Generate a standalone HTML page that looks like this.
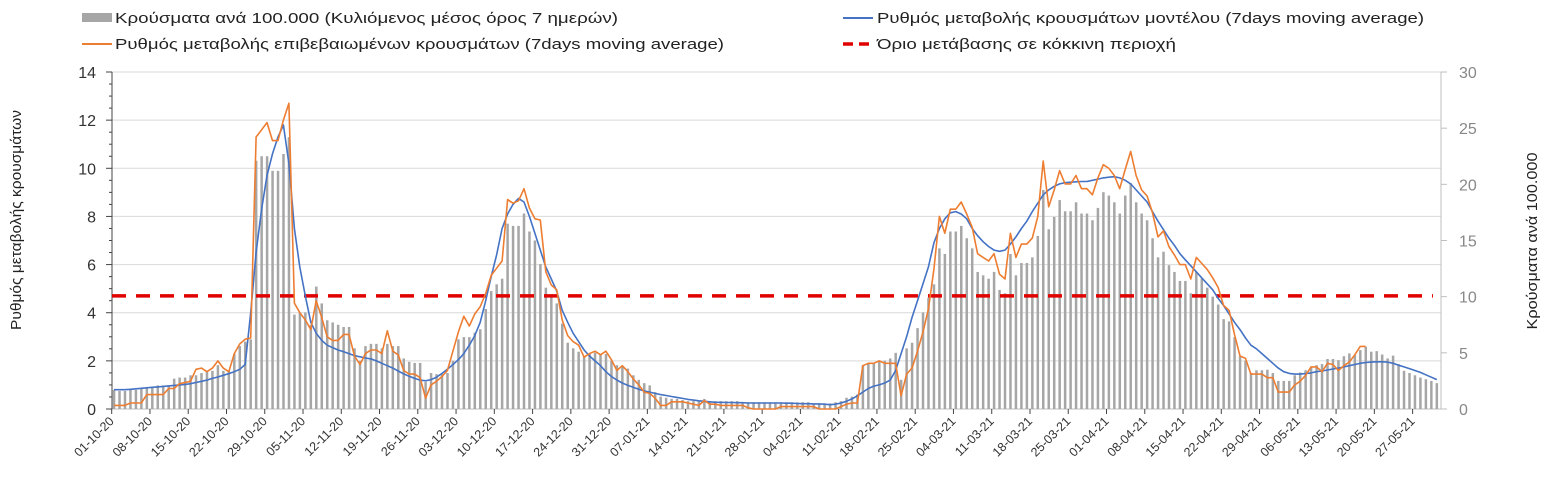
<!DOCTYPE html>
<html><head><meta charset="utf-8"><style>
body{margin:0;background:#fff;font-family:"Liberation Sans","DejaVu Sans",sans-serif;}
svg{display:block}
</style></head><body>
<svg id="chart" width="1553" height="488" viewBox="0 0 1553 488" xmlns="http://www.w3.org/2000/svg" font-family="Liberation Sans, DejaVu Sans, sans-serif">
<g font-size="15" fill="#222">
 <rect x="82" y="13" width="30" height="9" fill="#a6a6a6"/>
 <text x="115" y="23" textLength="503" lengthAdjust="spacingAndGlyphs">Κρούσματα ανά 100.000 (Κυλιόμενος μέσος όρος 7 ημερών)</text>
 <line x1="82" y1="44" x2="112" y2="44" stroke="#ed7d31" stroke-width="2"/>
 <text x="115" y="49" textLength="609" lengthAdjust="spacingAndGlyphs">Ρυθμός μεταβολής επιβεβαιωμένων κρουσμάτων (7days moving average)</text>
 <line x1="843" y1="18" x2="873" y2="18" stroke="#4472c4" stroke-width="2"/>
 <text x="877" y="23" textLength="547" lengthAdjust="spacingAndGlyphs">Ρυθμός μεταβολής κρουσμάτων μοντέλου (7days moving average)</text>
 <line x1="843" y1="44" x2="873" y2="44" stroke="#e00000" stroke-width="3.5" stroke-dasharray="10,6"/>
 <text x="877" y="49" textLength="299" lengthAdjust="spacingAndGlyphs">Όριο μετάβασης σε κόκκινη περιοχή</text>
</g>
<text transform="translate(21,220) rotate(-90)" text-anchor="middle" font-size="15" fill="#222" textLength="220" lengthAdjust="spacingAndGlyphs">Ρυθμός μεταβολής κρουσμάτων</text>
<text transform="translate(1537,241) rotate(-90)" text-anchor="middle" font-size="15" fill="#222" textLength="177" lengthAdjust="spacingAndGlyphs">Κρούσματα ανά 100.000</text>
<g id="plot"></g>
</svg>
<script>
const bars = [1.7,1.6,1.6,1.7,1.7,1.8,1.9,2.0,2.1,2.1,2.1,2.7,2.8,2.8,3.0,3.0,3.2,3.4,3.4,3.9,3.4,3.4,4.9,5.6,6.0,6.2,
22.1,22.5,22.5,21.2,21.2,22.7,24.2,
8.4,8.6,8.6,7.5,10.9,9.4,7.9,7.7,7.5,7.3,7.3,5.4,4.3,5.6,5.8,5.8,5.4,5.8,5.6,5.6,4.5,4.2,4.1,4.1,2.4,3.2,3.1,
3.1,3.2,4.3,
6.2,6.4,6.4,6.8,7.1,8.9,10.5,11.1,11.6,16.5,16.3,16.3,17.4,15.8,15.0,12.9,10.8,10.1,9.4,7.6,5.9,5.4,5.1,4.7,4.9,5.0,4.8,4.9,
4.3,3.9,3.8,3.6,3.0,2.6,2.3,2.1,1.5,1.1,1.0,0.9,0.9,0.8,0.7,0.7,0.7,0.9,0.7,0.7,0.7,0.7,0.7,0.7,0.6,0.6,0.6,0.6,0.6,
0.6,0.6,0.6,0.6,0.6,0.6,0.6,0.6,0.5,0.5,0.5,0.5,0.6,0.7,1.0,1.1,1.3,
3.9,4.1,4.1,4.3,4.3,4.5,5.0,2.6,5.4,5.9,7.2,8.6,9.9,11.1,
14.3,13.8,15.8,15.8,16.3,15.2,14.3,12.2,11.9,11.6,12.2,10.6,10.3,13.8,11.9,13.0,13.0,13.5,15.4,19.5,16.0,17.1,18.6,17.6,17.6,18.4,17.4,17.4,16.8,17.9,19.3,
19.0,18.4,17.4,19.0,20.1,18.4,17.4,16.8,15.2,13.5,14.0,12.8,12.2,11.4,11.4,10.3,12.2,11.6,10.8,10.0,9.3,8.0,7.8,6.4,4.7,4.3,3.2,
3.45,3.45,3.5,3.2,2.5,2.5,2.5,3.0,3.25,3.45,3.75,3.9,4.0,4.45,4.45,4.35,4.7,4.95,4.8,5.25,5.55,5.1,5.15,4.85,4.5,4.75,4.0,3.4,3.2,3.0,2.8,2.65,2.5,2.3];
const confirmedRate = [0.15,0.15,0.15,0.25,0.25,0.25,0.6,0.6,0.6,0.6,0.85,0.85,1.05,1.1,1.15,1.65,1.7,1.55,1.7,2.0,1.7,1.55,2.3,2.7,2.9,2.95,
11.3,11.6,11.9,11.15,11.15,12.0,12.7,
4.4,4.0,3.7,3.3,4.5,3.8,3.0,2.85,2.85,3.1,3.1,2.2,1.85,2.3,2.45,2.45,2.3,3.25,2.4,2.25,1.6,1.45,1.45,1.3,0.45,1.0,1.15,
1.35,1.6,2.4,3.2,
3.85,3.45,3.95,4.25,4.8,5.55,5.85,6.15,8.7,8.55,8.65,9.15,8.35,7.9,7.85,5.7,5.15,4.95,3.7,3.05,2.8,2.65,2.15,2.3,2.4,2.25,2.4,
2.05,1.6,1.8,1.55,1.25,1.0,0.7,0.65,0.45,0.15,0.15,0.3,0.3,0.3,0.25,0.2,0.15,0.35,0.2,0.2,0.15,0.15,0.15,0.15,0.15,0.05,0.0,0.0,0.0,
0.0,0.0,0.1,0.1,0.1,0.1,0.1,0.1,0.1,0.0,0.0,0.0,0.0,0.1,0.2,0.25,0.25,
1.8,1.9,1.9,2.0,1.9,1.9,1.9,0.55,1.45,1.7,2.4,3.2,4.15,5.8,
8.0,7.3,8.3,8.3,8.6,8.1,7.55,6.45,6.3,6.15,6.45,5.6,5.4,7.3,6.3,6.85,6.85,7.1,8.0,10.3,8.4,9.1,9.9,9.35,9.35,9.7,9.15,9.15,8.9,9.6,10.15,
10.0,9.7,9.15,9.95,10.7,9.7,9.1,8.85,8.15,7.15,7.4,6.75,6.4,6.0,6.0,5.4,6.3,6.05,5.8,5.45,5.05,4.3,4.1,3.1,2.2,2.1,1.45,
1.45,1.45,1.3,1.3,0.7,0.7,0.7,1.0,1.15,1.4,1.75,1.75,1.55,1.9,1.85,1.6,1.8,1.95,2.25,2.6,2.6];
const modelRate = [0.8,0.8,0.8,0.82,0.84,0.86,0.88,0.9,0.92,0.94,0.96,0.98,1.0,1.02,1.05,1.1,1.15,1.2,1.27,1.33,1.4,1.47,1.55,1.65,1.85,
4.0,6.5,8.3,9.7,10.6,11.3,11.8,
10.2,7.5,5.9,4.7,3.6,3.15,2.85,2.65,2.55,2.45,2.38,2.3,2.22,2.17,2.12,2.08,2.0,1.9,1.8,1.7,1.58,1.46,1.36,1.27,1.2,1.17,1.22,1.32,1.48,1.65,
1.85,2.05,2.3,2.65,3.05,3.6,4.5,5.5,6.4,7.5,8.1,8.5,8.75,8.6,8.0,7.3,6.6,5.9,5.4,4.9,4.1,3.6,3.15,2.8,2.45,2.2,2.0,1.8,1.55,
1.35,1.2,1.08,0.98,0.9,0.82,0.75,0.7,0.65,0.6,0.56,0.52,0.48,0.44,0.4,0.37,0.34,0.32,0.3,
0.28,0.28,0.27,0.27,0.26,0.26,0.25,0.25,0.25,0.25,0.25,0.25,0.25,0.24,0.24,0.23,0.22,0.22,0.21,0.21,
0.2,0.18,0.2,0.25,0.32,0.42,0.55,0.7,0.85,0.95,1.0,1.08,1.2,1.6,2.3,3.0,3.8,4.5,5.2,5.9,6.9,
7.5,7.9,8.15,8.2,8.1,7.9,7.5,7.2,6.95,6.75,6.6,6.55,6.6,6.85,7.15,7.5,7.8,8.2,8.55,8.9,9.1,9.25,9.35,9.4,9.42,9.44,9.45,9.45,9.5,9.55,9.6,
9.63,9.65,9.6,9.5,9.35,9.1,8.85,8.6,8.2,7.8,7.45,7.1,6.8,6.45,6.2,5.95,5.7,5.45,5.2,4.95,4.6,4.3,3.95,3.6,3.3,2.95,2.65,
2.5,2.3,2.1,1.9,1.7,1.55,1.48,1.45,1.45,1.47,1.5,1.55,1.58,1.62,1.66,1.7,1.75,1.8,1.85,1.9,1.93,1.95,1.96,1.96,1.95,1.9,1.82,1.75,1.68,1.6,1.52,1.42,1.32,1.22];
const threshold = [4.7];
const leftTicks = [0,2,4,6,8,10,12,14];
const rightTicks = [0,5,10,15,20,25,30];
const startDate = [2020,10,1];

const NS="http://www.w3.org/2000/svg";
const plot=document.getElementById('plot');
const X0=114, DX=5.466, Y0=409, YTOP=72, XL=112, XR=1441;
const yL=v=>Y0-(v/14)*(Y0-YTOP);
const yR=v=>Y0-(v/30)*(Y0-YTOP);
const xI=i=>X0+i*DX;
function mk(tag,attrs,parent){const e=document.createElementNS(NS,tag);for(const k in attrs)e.setAttribute(k,attrs[k]);(parent||plot).appendChild(e);return e;}

leftTicks.forEach(v=>{
  const g=mk('line',{x1:XL,x2:XR,y1:yL(v),y2:yL(v),stroke:v===0?'#bfbfbf':'#d9d9d9','stroke-width':1});
  
  
  const t=mk('text',{x:96,y:yL(v)+6,'text-anchor':'end','font-size':16,fill:'#333'});
  t.textContent=v;
  
  
});
for(let v=0;v<=14;v+=0.5){mk('line',{x1:XL-(v%2===0?6:3),x2:XL,y1:yL(v),y2:yL(v),stroke:'#444','stroke-width':1});}
rightTicks.forEach(v=>{
  mk('line',{x1:XR,x2:XR+6,y1:yR(v),y2:yR(v),stroke:'#bfbfbf'});
  const t=mk('text',{x:1459,y:yR(v)+6,'font-size':16,fill:'#888'});
  t.textContent=v;
  
  
});
mk('line',{x1:XL,x2:XL,y1:YTOP,y2:Y0,stroke:'#444'});
mk('line',{x1:XR,x2:XR,y1:YTOP,y2:Y0,stroke:'#bfbfbf'});

bars.forEach((v,i)=>{
  const r=mk('rect',{x:xI(i)-1.2,y:yR(v),width:2.5,height:Y0-yR(v),fill:'#a6a6a6'});
  
  
});
const sd=new Date(Date.UTC(startDate[0],startDate[1]-1,startDate[2]));
for(let i=0;i<bars.length;i+=7){
  const x=xI(i)-2.3;
  mk('line',{x1:x,x2:x,y1:Y0,y2:Y0+5,stroke:'#444'});
  const d=new Date(sd.getTime()+i*86400000);
  const s=String(d.getUTCDate()).padStart(2,'0')+'-'+String(d.getUTCMonth()+1).padStart(2,'0')+'-'+String(d.getUTCFullYear()).slice(2);
  const t=mk('text',{transform:`translate(${x+3},${Y0+13}) rotate(-45)`,'text-anchor':'end','font-size':12.5,fill:'#333'});
  t.textContent=s;
  
  
}
const th=mk('line',{x1:XL,x2:1433,y1:yL(threshold[0]),y2:yL(threshold[0]),stroke:'#e00000','stroke-width':3.5,'stroke-dasharray':'14,10'});


function path(arr){return arr.map((v,i)=>(i?'L':'M')+xI(i).toFixed(1)+','+yL(v).toFixed(1)).join(' ');}
const pb=mk('path',{d:path(modelRate),fill:'none',stroke:'#4472c4','stroke-width':1.6,'stroke-linejoin':'round'});


const po=mk('path',{d:path(confirmedRate),fill:'none',stroke:'#ed7d31','stroke-width':1.6,'stroke-linejoin':'round'});


</script>
</body></html>
